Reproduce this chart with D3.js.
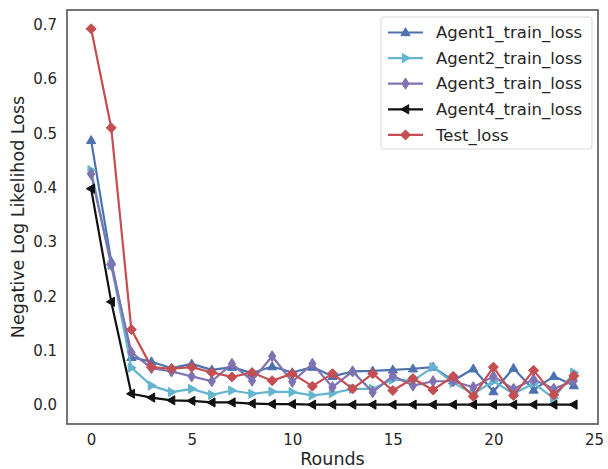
<!DOCTYPE html>
<html>
<head>
<meta charset="utf-8">
<script src="https://cdn.jsdelivr.net/npm/d3@7"></script>
<style>
  body { margin: 0; background: #fff; }
  text { font-family: "DejaVu Sans", sans-serif; fill: #262626; }
</style>
</head>
<body>
<div id="chart"></div>
<script>
var rounds = d3.range(0, 25);

var agent1 = [0.487, 0.264, 0.088, 0.080, 0.068, 0.076, 0.065, 0.070, 0.059, 0.071, 0.060, 0.070, 0.053,
              0.062, 0.063, 0.065, 0.067, 0.070, 0.045, 0.067, 0.025, 0.068, 0.028, 0.053, 0.036];
var agent2 = [0.432, 0.258, 0.069, 0.036, 0.024, 0.030, 0.019, 0.027, 0.021, 0.025, 0.024, 0.018, 0.022,
              0.030, 0.030, 0.047, 0.045, 0.070, 0.041, 0.021, 0.044, 0.021, 0.040, 0.013, 0.060];
var agent3 = [0.425, 0.258, 0.097, 0.068, 0.062, 0.053, 0.044, 0.076, 0.045, 0.090, 0.043, 0.076, 0.033,
              0.062, 0.024, 0.054, 0.036, 0.044, 0.044, 0.033, 0.053, 0.030, 0.047, 0.030, 0.045];
var agent4 = [0.398, 0.190, 0.021, 0.014, 0.009, 0.008, 0.005, 0.005, 0.003, 0.002, 0.002, 0.001, 0.001,
              0.001, 0.001, 0.001, 0.001, 0.001, 0.001, 0.001, 0.001, 0.001, 0.001, 0.001, 0.001];
var testLoss = [0.692, 0.510, 0.139, 0.070, 0.067, 0.070, 0.060, 0.052, 0.060, 0.045, 0.058, 0.035, 0.058,
                0.030, 0.058, 0.027, 0.049, 0.028, 0.053, 0.016, 0.070, 0.018, 0.064, 0.019, 0.054];

var seriesNames = ["Agent1_train_loss", "Agent2_train_loss", "Agent3_train_loss", "Agent4_train_loss", "Test_loss"];
var xTicks = [0, 5, 10, 15, 20, 25];
var yTicks = [0.0, 0.1, 0.2, 0.3, 0.4, 0.5, 0.6, 0.7];

function init() {
    var W = 608, H = 469;
    var margin = { top: 10, right: 10, bottom: 45, left: 67 },
        width = 598 - margin.left,
        height = 424 - margin.top;

    var svg = d3.select("#chart").append("svg")
        .attr("width", W)
        .attr("height", H);

    var g = svg.append("g")
        .attr("transform", "translate(" + margin.left + "," + margin.top + ")");

    var x = d3.scaleLinear().domain([-1.2, 25.2]).range([0, width]);
    var y = d3.scaleLinear().domain([-0.0346, 0.7266]).range([height, 0]);

    // tick labels only, no tick marks
    var xAxis = g.append("g")
        .attr("transform", "translate(0," + height + ")")
        .call(d3.axisBottom(x).tickValues(xTicks).tickSize(0).tickPadding(10).tickFormat(d3.format("d")));
    xAxis.select(".domain").remove();
    xAxis.selectAll("text").style("font-size", "15px").attr("fill", "#262626");

    var yAxis = g.append("g")
        .call(d3.axisLeft(y).tickValues(yTicks).tickSize(0).tickPadding(10).tickFormat(d3.format(".1f")));
    yAxis.select(".domain").remove();
    yAxis.selectAll("text").style("font-size", "15px").attr("fill", "#262626");

    svg.append("text")
        .attr("x", margin.left + width / 2)
        .attr("y", 465)
        .attr("text-anchor", "middle")
        .style("font-size", "17.5px")
        .text("Rounds");

    svg.append("text")
        .attr("transform", "translate(24," + (margin.top + height / 2) + ") rotate(-90)")
        .attr("text-anchor", "middle")
        .style("font-size", "17.5px")
        .text("Negative Log Likelihod Loss");

    var triUp = "M0,-4.8L4.6,3.2L-4.6,3.2Z";
    var triRight = "M4.8,0L-3.2,4.6L-3.2,-4.6Z";
    var triLeft = "M-4.8,0L3.2,-4.6L3.2,4.6Z";
    var thinDiamond = "M0,-5.6L3.6,0L0,5.6L-3.6,0Z";
    var diamond = "M0,-5L5,0L0,5L-5,0Z";

    var series = [
        { name: seriesNames[0], values: agent1, color: "#4C72B0", marker: triUp },
        { name: seriesNames[1], values: agent2, color: "#64B5CD", marker: triRight },
        { name: seriesNames[2], values: agent3, color: "#8172B2", marker: thinDiamond },
        { name: seriesNames[3], values: agent4, color: "#111111", marker: triLeft },
        { name: seriesNames[4], values: testLoss, color: "#C44E52", marker: diamond }
    ];

    var line = d3.line()
        .x(function (d, i) { return x(rounds[i]); })
        .y(function (d) { return y(d); });

    var plot = g.append("g");

    series.forEach(function (s) {
        var sg = plot.append("g");
        sg.append("path")
            .datum(s.values)
            .attr("d", line)
            .attr("fill", "none")
            .attr("stroke", s.color)
            .attr("stroke-width", 2.2)
            .attr("stroke-linejoin", "round");
        sg.selectAll("path.m")
            .data(s.values)
            .enter()
            .append("path")
            .attr("class", "m")
            .attr("d", s.marker)
            .attr("transform", function (d, i) { return "translate(" + x(rounds[i]) + "," + y(d) + ")"; })
            .attr("fill", s.color)
            .attr("stroke", s.color)
            .attr("stroke-width", 1);
    });

    // frame
    g.append("rect")
        .attr("width", width)
        .attr("height", height)
        .attr("fill", "none")
        .attr("stroke", "#666")
        .attr("stroke-width", 1.8);

    // legend
    var lg = svg.append("g").attr("transform", "translate(381,17)");
    lg.append("rect")
        .attr("width", 211)
        .attr("height", 132)
        .attr("rx", 3)
        .attr("fill", "rgba(255,255,255,0.8)")
        .attr("stroke", "#d6d6d6")
        .attr("stroke-width", 1);

    series.forEach(function (s, i) {
        var row = lg.append("g").attr("transform", "translate(0," + (15.5 + i * 25.6) + ")");
        row.append("line")
            .attr("x1", 7).attr("x2", 42)
            .attr("stroke", s.color)
            .attr("stroke-width", 2.2);
        row.append("path")
            .attr("d", s.marker)
            .attr("transform", "translate(24.5,0)")
            .attr("fill", s.color)
            .attr("stroke", s.color)
            .attr("stroke-width", 1);
        row.append("text")
            .attr("x", 55)
            .attr("y", 0)
            .attr("dy", "0.35em")
            .style("font-size", "16.5px")
            .text(s.name);
    });
}

window.onload = init;
</script>
</body>
</html>
